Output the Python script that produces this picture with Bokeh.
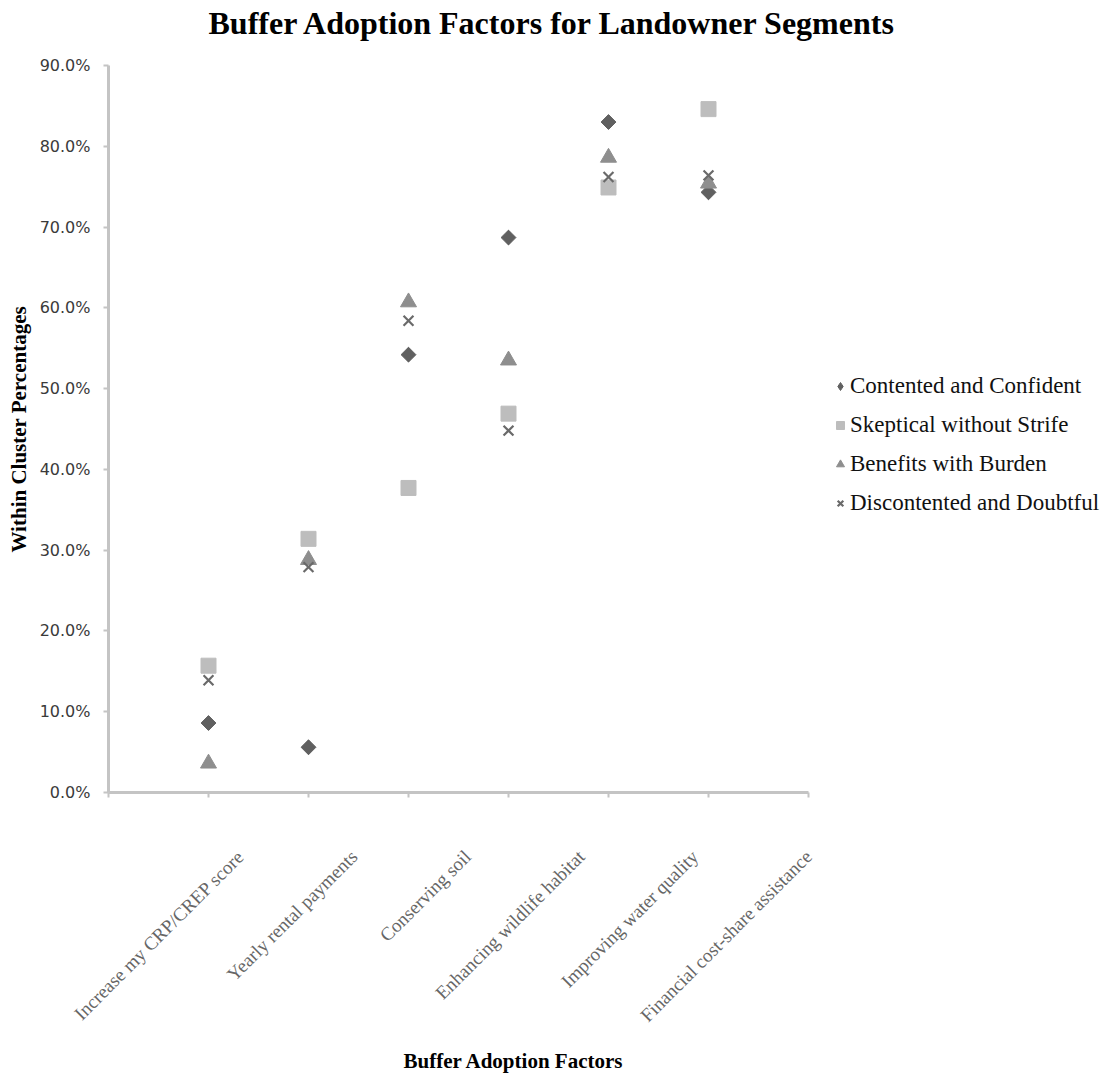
import math
from bokeh.plotting import figure
from bokeh.models import (Range1d, LinearAxis, FixedTicker, NumeralTickFormatter,
                          Legend, LegendItem, ColumnDataSource, Title)
from bokeh.embed import file_html
from bokeh.resources import INLINE

# ---------------- data ----------------
categories = ["Increase my CRP/CREP score", "Yearly rental payments", "Conserving soil",
              "Enhancing wildlife habitat", "Improving water quality",
              "Financial cost-share assistance"]
cat_pos = [1, 2, 3, 4, 5, 6]
series_names = ["Contented and Confident", "Skeptical without Strife",
                "Benefits with Burden", "Discontented and Doubtful"]
contented = [0.086, 0.056, 0.542, 0.687, 0.830, 0.743]
skeptical = [0.157, 0.314, 0.377, 0.469, 0.749, 0.846]
benefits = [0.036, 0.288, 0.607, 0.535, 0.786, 0.754]
discontented = [0.139, 0.279, 0.584, 0.448, 0.762, 0.764]
y_ticks = [0.0, 0.1, 0.2, 0.3, 0.4, 0.5, 0.6, 0.7, 0.8, 0.9]
x_ticks = [0, 1, 2, 3, 4, 5, 6, 7]

SERIF = "Liberation Serif"
AXIS_GRAY = "#c4c4c4"

W, H = 1106, 1084
LEFT, RIGHT, TOP, BOTTOM = 108, 6, 42, 292
FRAME_W = W - LEFT - RIGHT
FRAME_H = H - TOP - BOTTOM
AXIS_H = 727                        # pixel height of the 0–90% axis
Y_MAX = 0.9
PX_PER_CAT = 100.0
LAB_PX = 113.6                      # spacing of the slanted category labels
LAB_START = 1 - 132 / LAB_PX

p = figure(width=W, height=H, output_backend="svg", toolbar_location=None,
           x_range=Range1d(0, FRAME_W / PX_PER_CAT),
           y_range=Range1d(0, Y_MAX * FRAME_H / AXIS_H),
           min_border_left=LEFT, min_border_right=RIGHT, min_border_top=TOP,
           min_border_bottom=BOTTOM, outline_line_color=None)
p.grid.visible = False
p.background_fill_color = "white"
p.border_fill_color = "white"

# title
p.title.text = "Buffer Adoption Factors for Landowner Segments"
p.title.text_font = SERIF
p.title.text_font_size = "32px"
p.title.text_font_style = "bold"
p.title.text_color = "#000000"
p.title.align = "left"
p.title.offset = 100
p.title.standoff = 4

# main x axis (ticks only)
xa = p.xaxis[0]
xa.ticker = FixedTicker(ticks=x_ticks)
xa.bounds = (0, 7)
xa.major_label_overrides = {t: "" for t in x_ticks}
xa.major_label_standoff = 0
xa.axis_line_color = AXIS_GRAY
xa.axis_line_width = 3
xa.major_tick_line_color = AXIS_GRAY
xa.major_tick_line_width = 2
xa.major_tick_out = 5
xa.major_tick_in = 0
xa.minor_tick_line_color = None

# y axis
ya = p.yaxis[0]
ya.ticker = FixedTicker(ticks=y_ticks)
ya.bounds = (0, Y_MAX)
ya.formatter = NumeralTickFormatter(format="0.0%")
ya.major_label_text_font = "DejaVu Sans"
ya.major_label_text_font_size = "16px"
ya.major_label_text_color = "#3a3a3a"
ya.major_label_standoff = 13
ya.axis_line_color = AXIS_GRAY
ya.axis_line_width = 3
ya.major_tick_line_color = AXIS_GRAY
ya.major_tick_line_width = 2
ya.major_tick_out = 5
ya.major_tick_in = 0
ya.minor_tick_line_color = None

yt = Title(text="Within Cluster Percentages", align="left", offset=240,
           vertical_align="middle", standoff=9, text_font=SERIF,
           text_font_size="21px", text_font_style="bold", text_color="#000000")
p.add_layout(yt, "left")

# category label axis (labels spread like the original)
p.extra_x_ranges = {"lab": Range1d(LAB_START, LAB_START + FRAME_W / LAB_PX)}
la = LinearAxis(x_range_name="lab", ticker=FixedTicker(ticks=cat_pos),
                major_label_overrides={k: c for k, c in zip(cat_pos, categories)},
                major_label_orientation=math.pi / 4)
la.axis_line_color = None
la.major_tick_line_color = None
la.minor_tick_line_color = None
la.major_label_text_font = SERIF
la.major_label_text_font_size = "19px"
la.major_label_text_color = "#666666"
la.major_label_standoff = 50
p.add_layout(la, "below")

xt = Title(text="Buffer Adoption Factors", align="left", offset=295,
           vertical_align="bottom", standoff=20, text_font=SERIF,
           text_font_size="21px", text_font_style="bold", text_color="#000000")
p.add_layout(xt, "below")

# ---------------- points ----------------
src = ColumnDataSource(dict(x=cat_pos, c=contented, s=skeptical, b=benefits, d=discontented))
# diamond glyph (used as legend key) sits under the wider rotated-square marker
r1_key = p.scatter("x", "c", source=src, marker="diamond", size=14,
                   fill_color="#606060", line_color="#606060")
r1 = p.scatter("x", "c", source=src, marker="square", angle=math.pi / 4, size=10.5,
               fill_color="#606060", line_color="#606060")
r2 = p.scatter("x", "s", source=src, marker="square", size=15,
               fill_color="#bdbdbd", line_color="#bdbdbd")
r3 = p.scatter("x", "b", source=src, marker="triangle", size=16,
               fill_color="#8e8e8e", line_color="#8e8e8e")
r4 = p.scatter("x", "d", source=src, marker="x", size=14, line_width=2.2,
               line_color="#6a6a6a")

legend = Legend(items=[LegendItem(label=n, renderers=[r]) for n, r in
                       zip(series_names, [r1_key, r2, r3, r4])],
                location=(722, 276))
legend.label_text_font = SERIF
legend.label_text_font_size = "23px"
legend.label_text_color = "#111111"
legend.border_line_color = None
legend.background_fill_alpha = 0
legend.padding = 4
legend.spacing = 13
legend.glyph_width = 20
legend.glyph_height = 24
legend.label_height = 24
legend.label_standoff = 0
legend.margin = 0
p.add_layout(legend)

open("out.html", "w").write(file_html(p, INLINE))
